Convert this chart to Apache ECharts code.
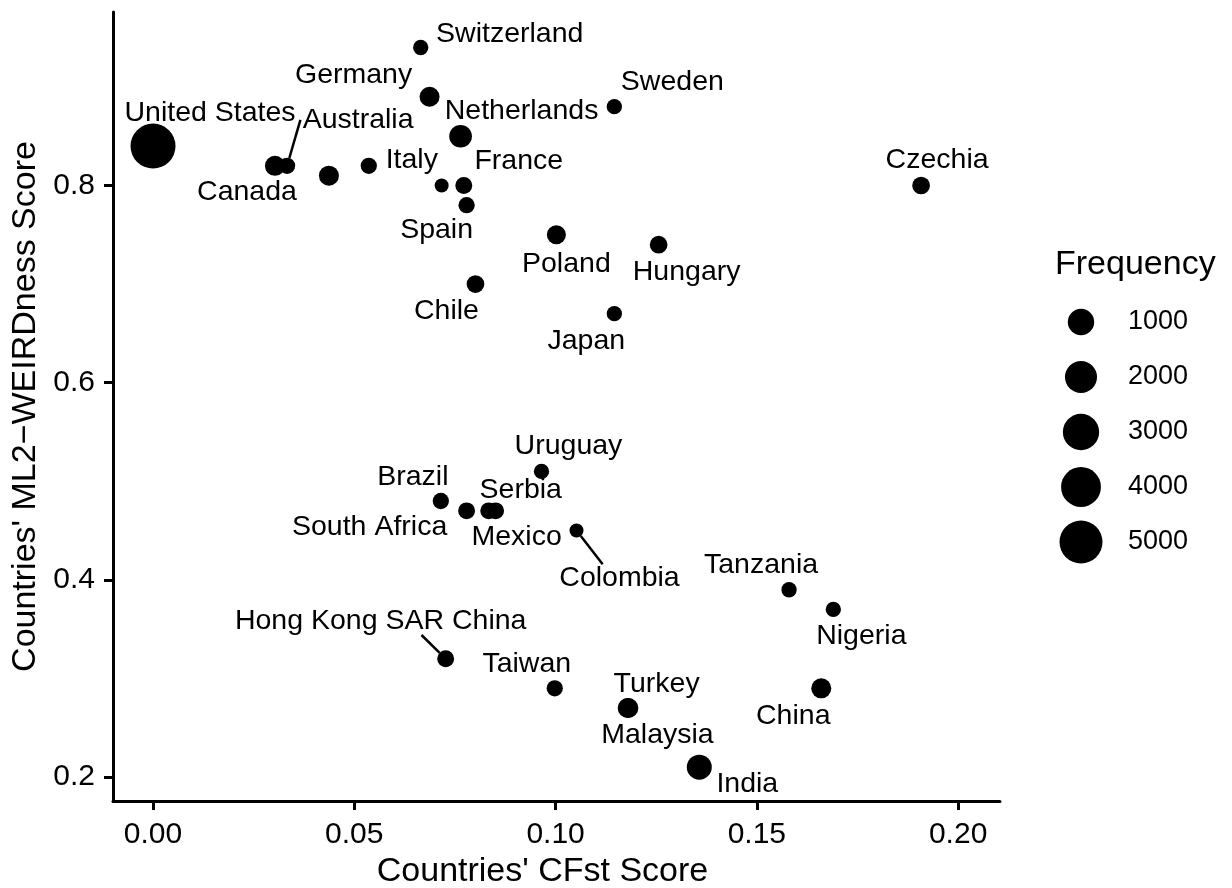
<!DOCTYPE html>
<html>
<head>
<meta charset="utf-8">
<script src="https://cdn.jsdelivr.net/npm/echarts@6/dist/echarts.min.js"></script>
<style>
  html, body { margin: 0; padding: 0; background: #fff; }
  #chart { width: 1232px; height: 888px; }
</style>
</head>
<body>
<div id="chart"></div>
<script>
// Country scores: CFst distance vs ML2 WEIRDness, point area by sample frequency
const countries = [
  'United States', 'Canada', 'Australia', '', 'Italy', 'Switzerland', 'Germany',
  'Netherlands', '', 'France', 'Spain', 'Chile', 'Sweden', 'Czechia', 'Poland',
  'Hungary', 'Japan', 'Uruguay', 'Brazil', 'South Africa', 'Serbia', 'Mexico',
  'Colombia', 'Tanzania', 'Nigeria', 'Hong Kong SAR China', 'Taiwan', 'Turkey',
  'Malaysia', 'China', 'India'
];
const cfstScore = [
  0.000, 0.0303, 0.0333, 0.0437, 0.0536, 0.0665, 0.0687,
  0.0764, 0.0717, 0.0772, 0.0779, 0.0801, 0.1146, 0.1908, 0.1002,
  0.1256, 0.1146, 0.0965, 0.0715, 0.0779, 0.0834, 0.0851,
  0.1052, 0.1580, 0.1690, 0.0727, 0.0998, 0.1179,
  0.1181, 0.1660, 0.1357
];
const weirdScore = [
  0.84, 0.82, 0.82, 0.81, 0.82, 0.94, 0.89,
  0.85, 0.80, 0.80, 0.78, 0.70, 0.88, 0.80, 0.75,
  0.74, 0.67, 0.51, 0.48, 0.47, 0.47, 0.47,
  0.45, 0.39, 0.37, 0.32, 0.29, 0.27,
  0.27, 0.29, 0.21
];
const frequency = [
  5700, 320, 130, 310, 130, 110, 310,
  540, 100, 150, 130, 180, 110, 180, 250,
  180, 110, 110, 130, 150, 150, 150,
  100, 110, 110, 150, 130, 300,
  300, 310, 800
];
const xTicks = [0, 0.05, 0.10, 0.15, 0.20];
const yTicks = [0.2, 0.4, 0.6, 0.8];
const legendBreaks = [1000, 2000, 3000, 4000, 5000];

// Text placement of each country label relative to its point (px)
const labelOffset = {
  'United States': [57, -33], 'Canada': [-28, 26], 'Australia': [71, -46],
  'Italy': [43, -6], 'Switzerland': [89, -13], 'Germany': [-76, -22],
  'Netherlands': [61, -25], 'France': [55, -24], 'Spain': [-30, 25],
  'Chile': [-29, 27], 'Sweden': [58, -25], 'Czechia': [16, -25],
  'Poland': [10, 29], 'Hungary': [28, 27], 'Japan': [-28, 27],
  'Uruguay': [27, -25], 'Brazil': [-28, -24], 'South Africa': [-97, 16],
  'Serbia': [32, -21], 'Mexico': [21, 26], 'Colombia': [43, 48],
  'Tanzania': [-28, -25], 'Nigeria': [28, 27], 'Hong Kong SAR China': [-65, -38],
  'Taiwan': [-28, -24], 'Turkey': [29, -24], 'Malaysia': [29, 27],
  'China': [-28, 28], 'India': [48, 17]
};
// Where a leader segment meets its label: x as a fraction of the label width,
// y as a fraction of the label height measured from the label centre
const segmentAnchor = {
  'Australia': [-0.02, 0.0],
  'Colombia': [0.36, -0.5],
  'Hong Kong SAR China': [0.64, 0.5]
};

const FONT = '"Liberation Sans", Arial, Helvetica, sans-serif';
const LABEL_SIZE = 28.5;
const fMin = Math.min(...frequency);
const fMax = Math.max(...frequency);
// diameter grows with the square root of frequency (area scale)
function sizeOf(f) {
  const t = Math.max(0, (f - fMin) / (fMax - fMin));
  return 14 + 31 * Math.sqrt(t);
}

const measureCtx = document.createElement('canvas').getContext('2d');
measureCtx.font = LABEL_SIZE + 'px ' + FONT;
function labelWidth(text) { return measureCtx.measureText(text).width; }

const points = countries.map((name, i) => ({
  name: name,
  value: [cfstScore[i], weirdScore[i], frequency[i]],
  label: name ? { show: true, offset: labelOffset[name] } : { show: false }
}));

// leader segments for labels that sit away from their point
const segmentRows = countries
  .map((name, i) => [cfstScore[i], weirdScore[i], frequency[i], i])
  .filter(row => segmentAnchor[countries[row[3]]]);

function renderSegment(params, api) {
  const idx = api.value(3);
  const name = countries[idx];
  const p = api.coord([api.value(0), api.value(1)]);
  const off = labelOffset[name];
  const a = segmentAnchor[name];
  const w = labelWidth(name);
  const h = LABEL_SIZE;
  const ex = p[0] + off[0] + (a[0] - 0.5) * w;
  const ey = p[1] + off[1] + a[1] * h;
  const dx = ex - p[0], dy = ey - p[1];
  const len = Math.sqrt(dx * dx + dy * dy);
  const rad = sizeOf(api.value(2)) / 2;
  return {
    type: 'line',
    shape: { x1: p[0] + dx / len * rad, y1: p[1] + dy / len * rad, x2: ex, y2: ey },
    style: { stroke: '#000', lineWidth: 2.5 }
  };
}

const chart = echarts.init(document.getElementById('chart'), null, { renderer: 'canvas' });

const legendGraphics = [{
  type: 'text', left: 1055, top: 248,
  style: { text: 'Frequency', font: '34px ' + FONT, fill: '#000' }
}];
legendBreaks.forEach((f, i) => {
  const cy = 322 + 55 * i;
  legendGraphics.push({
    type: 'circle', shape: { cx: 1081, cy: cy, r: sizeOf(f) / 2 },
    style: { fill: '#000' }
  });
  legendGraphics.push({
    type: 'text', x: 1128, y: cy,
    style: { text: String(f), font: '27px ' + FONT, fill: '#000', textVerticalAlign: 'middle' }
  });
});

chart.setOption({
  backgroundColor: '#fff',
  animation: false,
  textStyle: { fontFamily: FONT },
  grid: { left: 113, right: 232, top: 12, bottom: 87, containLabel: false, outerBoundsMode: 'none' },
  xAxis: {
    type: 'value', min: -0.00994, max: 0.2104,
    splitLine: { show: false },
    axisLine: { show: true, onZero: false, lineStyle: { color: '#000', width: 3 } },
    axisTick: { show: true, length: 9, lineStyle: { color: '#000', width: 3 }, customValues: xTicks },
    axisLabel: { color: '#000', fontSize: 30, margin: 19, customValues: xTicks,
      formatter: v => v.toFixed(2) },
    name: "Countries' CFst Score", nameLocation: 'middle', nameGap: 50,
    nameTextStyle: { color: '#000', fontSize: 34, padding: [0, 28, 0, 0] }
  },
  yAxis: {
    type: 'value', min: 0.1757, max: 0.976,
    splitLine: { show: false },
    axisLine: { show: true, onZero: false, lineStyle: { color: '#000', width: 3 } },
    axisTick: { show: true, length: 9, lineStyle: { color: '#000', width: 3 }, customValues: yTicks },
    axisLabel: { color: '#000', fontSize: 30, margin: 18, customValues: yTicks,
      formatter: v => v.toFixed(1) },
    name: "Countries' ML2\u2212WEIRDness Score", nameLocation: 'middle', nameGap: 62,
    nameTextStyle: { color: '#000', fontSize: 34 }
  },
  series: [{
    type: 'custom',
    data: segmentRows,
    renderItem: renderSegment,
    silent: true,
    z: 1
  }, {
    type: 'scatter',
    data: points,
    symbol: 'circle',
    symbolSize: v => sizeOf(v[2]),
    itemStyle: { color: '#000', opacity: 1 },
    label: {
      position: 'inside', color: '#000', fontSize: LABEL_SIZE, fontFamily: FONT,
      formatter: p => p.name
    },
    emphasis: { disabled: true },
    z: 2
  }],
  graphic: legendGraphics
});
</script>
</body>
</html>
